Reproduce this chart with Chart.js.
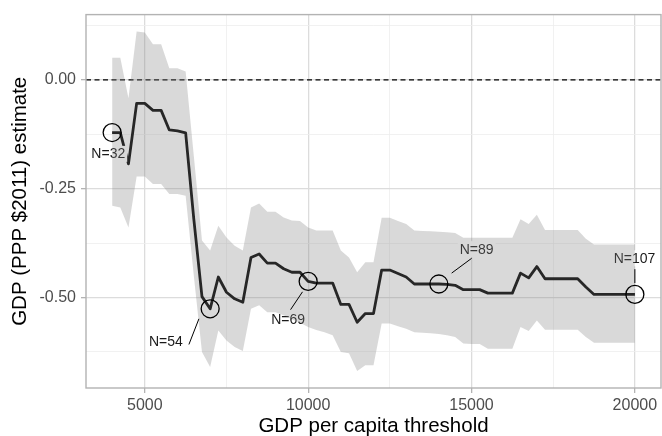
<!DOCTYPE html>
<html><head><meta charset="utf-8">
<script src="https://cdn.jsdelivr.net/npm/chart.js@4/dist/chart.umd.min.js"></script>
<style>html,body{margin:0;padding:0;background:#fff;overflow:hidden}#wrap{width:662px;height:436px;position:relative}</style>
</head><body><div id="wrap"><canvas id="c" width="662" height="436"></canvas></div>
<script>
const thresholds = [4000,4250,4500,4750,5000,5250,5500,5750,6000,6250,6500,6750,7000,7250,7500,7750,8000,8250,8500,8750,9000,9250,9500,9750,10000,10250,10500,10750,11000,11250,11500,11750,12000,12250,12500,12750,13000,13250,13500,13750,14000,14250,14500,14750,15000,15250,15500,15750,16000,16250,16500,16750,17000,17250,17500,17750,18000,18250,18500,18750,19000,19250,19500,19750,20000];
const estimate = [-0.121,-0.121,-0.193,-0.054,-0.054,-0.070,-0.070,-0.115,-0.117,-0.122,-0.320,-0.498,-0.526,-0.453,-0.488,-0.503,-0.511,-0.408,-0.400,-0.421,-0.421,-0.434,-0.442,-0.442,-0.463,-0.467,-0.467,-0.467,-0.516,-0.516,-0.557,-0.537,-0.537,-0.437,-0.437,-0.445,-0.453,-0.469,-0.469,-0.469,-0.469,-0.470,-0.472,-0.482,-0.482,-0.482,-0.490,-0.490,-0.490,-0.490,-0.444,-0.455,-0.429,-0.457,-0.457,-0.457,-0.457,-0.457,-0.476,-0.493,-0.493,-0.493,-0.493,-0.493,-0.493];
const ciUpper = [0.051,0.051,-0.042,0.111,0.109,0.082,0.082,0.027,0.027,0.019,-0.175,-0.369,-0.392,-0.335,-0.362,-0.381,-0.392,-0.293,-0.284,-0.303,-0.303,-0.316,-0.323,-0.324,-0.339,-0.346,-0.346,-0.346,-0.392,-0.408,-0.442,-0.419,-0.419,-0.317,-0.317,-0.324,-0.331,-0.346,-0.347,-0.348,-0.349,-0.350,-0.352,-0.363,-0.363,-0.363,-0.363,-0.363,-0.363,-0.363,-0.320,-0.331,-0.310,-0.345,-0.345,-0.345,-0.345,-0.345,-0.365,-0.378,-0.378,-0.378,-0.378,-0.378,-0.378];
const ciLower = [-0.289,-0.293,-0.339,-0.222,-0.222,-0.239,-0.239,-0.262,-0.262,-0.266,-0.450,-0.625,-0.660,-0.576,-0.599,-0.614,-0.623,-0.526,-0.518,-0.534,-0.534,-0.541,-0.550,-0.558,-0.568,-0.575,-0.580,-0.587,-0.625,-0.628,-0.669,-0.656,-0.656,-0.560,-0.560,-0.566,-0.572,-0.580,-0.581,-0.582,-0.584,-0.587,-0.591,-0.606,-0.607,-0.607,-0.618,-0.618,-0.618,-0.618,-0.568,-0.577,-0.553,-0.574,-0.574,-0.574,-0.574,-0.574,-0.591,-0.604,-0.604,-0.604,-0.604,-0.604,-0.604];

const markThresholds = [4000,7000,10000,14000,20000];
const markLabels = ['N=32','N=54','N=69','N=89','N=107'];
// label anchor and leader segment, in data units
const labelX = [3882,5646,9386,15157,19988];
const labelY = [-0.170,-0.602,-0.550,-0.389,-0.410];
const leaders = [null,[6350,-0.608,6656,-0.549],[9461,-0.528,9827,-0.487],[14392,-0.444,15004,-0.410],[20000,-0.435,20000,-0.467]];

const xMajor = [5000,10000,15000,20000];
const xMinor = [7500,12500,17500];
const yMajor = [-0.5,-0.25,0];
const yMinor = [-0.625,-0.375,-0.125,0.125];
const xLimits = [3200,20800];
const yLimits = [-0.708,0.150];
const refLine = 0;

const FONT = "'Liberation Sans', Arial, sans-serif";

const pts = (arr) => thresholds.map((t,i)=>({x:t,y:arr[i]}));
const isMajor = v => xMajor.includes(v) || yMajor.includes(v);

const gridStyle = {
  color: c => isMajor(c.tick.value) ? '#dcdcdc' : '#ededed',
  lineWidth: c => isMajor(c.tick.value) ? 1.3 : 0.8,
  tickColor: c => isMajor(c.tick.value) ? '#b3b3b3' : 'rgba(0,0,0,0)',
  tickLength: 5, tickWidth: 1.3, drawTicks: true
};

const decor = {
  id: 'decor',
  beforeDatasetsDraw(chart){
    const {ctx, chartArea:a, scales:{x,y}} = chart;
    ctx.save();
    ctx.beginPath(); ctx.rect(a.left,a.top,a.right-a.left,a.bottom-a.top); ctx.clip();
    const py = y.getPixelForValue(refLine);
    ctx.strokeStyle = '#000'; ctx.lineWidth = 1.2; ctx.setLineDash([5,3.5]);
    ctx.beginPath(); ctx.moveTo(a.left,py); ctx.lineTo(a.right,py); ctx.stroke();
    ctx.restore();
  },
  afterDatasetDraw(chart, args){
    if (args.index !== 1) return;
    const {ctx, scales:{x,y}} = chart;
    ctx.save();
    markLabels.forEach((lab,i)=>{
      ctx.font = '14px ' + FONT;
      const lx = x.getPixelForValue(labelX[i]), ly = y.getPixelForValue(labelY[i]);
      const w = ctx.measureText(lab).width;
      ctx.fillStyle = '#fff';
      ctx.fillRect(lx - w/2 - 2, ly - 8, w + 4, 16);
      ctx.fillStyle = '#1a1a1a'; ctx.textAlign = 'center'; ctx.textBaseline = 'middle';
      ctx.fillText(lab, lx, ly + 0.5);
    });
    ctx.restore();
  },
  afterDatasetsDraw(chart){
    const {ctx, scales:{x,y}} = chart;
    ctx.save();
    markThresholds.forEach((t,i)=>{
      const idx = thresholds.indexOf(t);
      const cx = x.getPixelForValue(t), cy = y.getPixelForValue(estimate[idx]);
      ctx.strokeStyle = '#000'; ctx.lineWidth = 1.3; ctx.setLineDash([]);
      ctx.beginPath(); ctx.arc(cx,cy,9,0,Math.PI*2); ctx.stroke();
      const s = leaders[i];
      if (s){
        ctx.lineWidth = 1;
        ctx.beginPath();
        ctx.moveTo(x.getPixelForValue(s[0]), y.getPixelForValue(s[1]));
        ctx.lineTo(x.getPixelForValue(s[2]), y.getPixelForValue(s[3]));
        ctx.stroke();
      }
    });
    ctx.restore();
  },
  afterDraw(chart){
    const {ctx, chartArea:a} = chart;
    ctx.save();
    ctx.strokeStyle = '#b3b3b3'; ctx.lineWidth = 1.4;
    ctx.strokeRect(a.left, a.top, a.right-a.left, a.bottom-a.top);
    ctx.restore();
  }
};

new Chart(document.getElementById('c'), {
  type: 'line',
  data: {
    datasets: [
      {data: pts(ciUpper), borderWidth: 0, pointRadius: 0, fill: '+1', backgroundColor: 'rgba(128,128,128,0.3)', tension: 0},
      {data: pts(ciLower), borderWidth: 0, pointRadius: 0, fill: false, tension: 0},
      {data: pts(estimate), borderColor: '#000', borderWidth: 2.8, pointRadius: 0, fill: false, tension: 0, borderJoinStyle: 'round'}
    ]
  },
  options: {
    responsive: false, animation: false, devicePixelRatio: 1,
    layout: {padding: {top: 13, right: 1, bottom: 0, left: 0}},
    plugins: {legend: {display: false}, tooltip: {enabled: false}},
    scales: {
      x: {
        type: 'linear', min: xLimits[0], max: xLimits[1],
        afterBuildTicks: s => { s.ticks = [...xMajor, ...xMinor].sort((a,b)=>a-b).map(v=>({value:v})); },
        afterFit: s => { s.height = 48; },
        ticks: {autoSkip: false, maxRotation: 0, padding: 3, color: '#4d4d4d', font: {family: FONT, size: 16},
          callback: v => xMajor.includes(v) ? String(v) : ''},
        grid: gridStyle,
        border: {display: false},
        title: {display: true, text: 'GDP per capita threshold', color: '#000', font: {family: FONT, size: 20.5}, padding: {top: 0, bottom: -3}}
      },
      y: {
        type: 'linear', min: yLimits[0], max: yLimits[1],
        afterBuildTicks: s => { s.ticks = [...yMajor, ...yMinor].sort((a,b)=>a-b).map(v=>({value:v})); },
        afterFit: s => { s.width = 86; },
        ticks: {autoSkip: false, padding: 5, color: '#4d4d4d', font: {family: FONT, size: 16},
          callback: v => yMajor.includes(v) ? v.toFixed(2) : ''},
        grid: gridStyle,
        border: {display: false},
        title: {display: true, text: 'GDP (PPP $2011) estimate', color: '#000', font: {family: FONT, size: 20.5}, padding: {top: 8, bottom: 0}}
      }
    }
  },
  plugins: [decor]
});
</script></body></html>
